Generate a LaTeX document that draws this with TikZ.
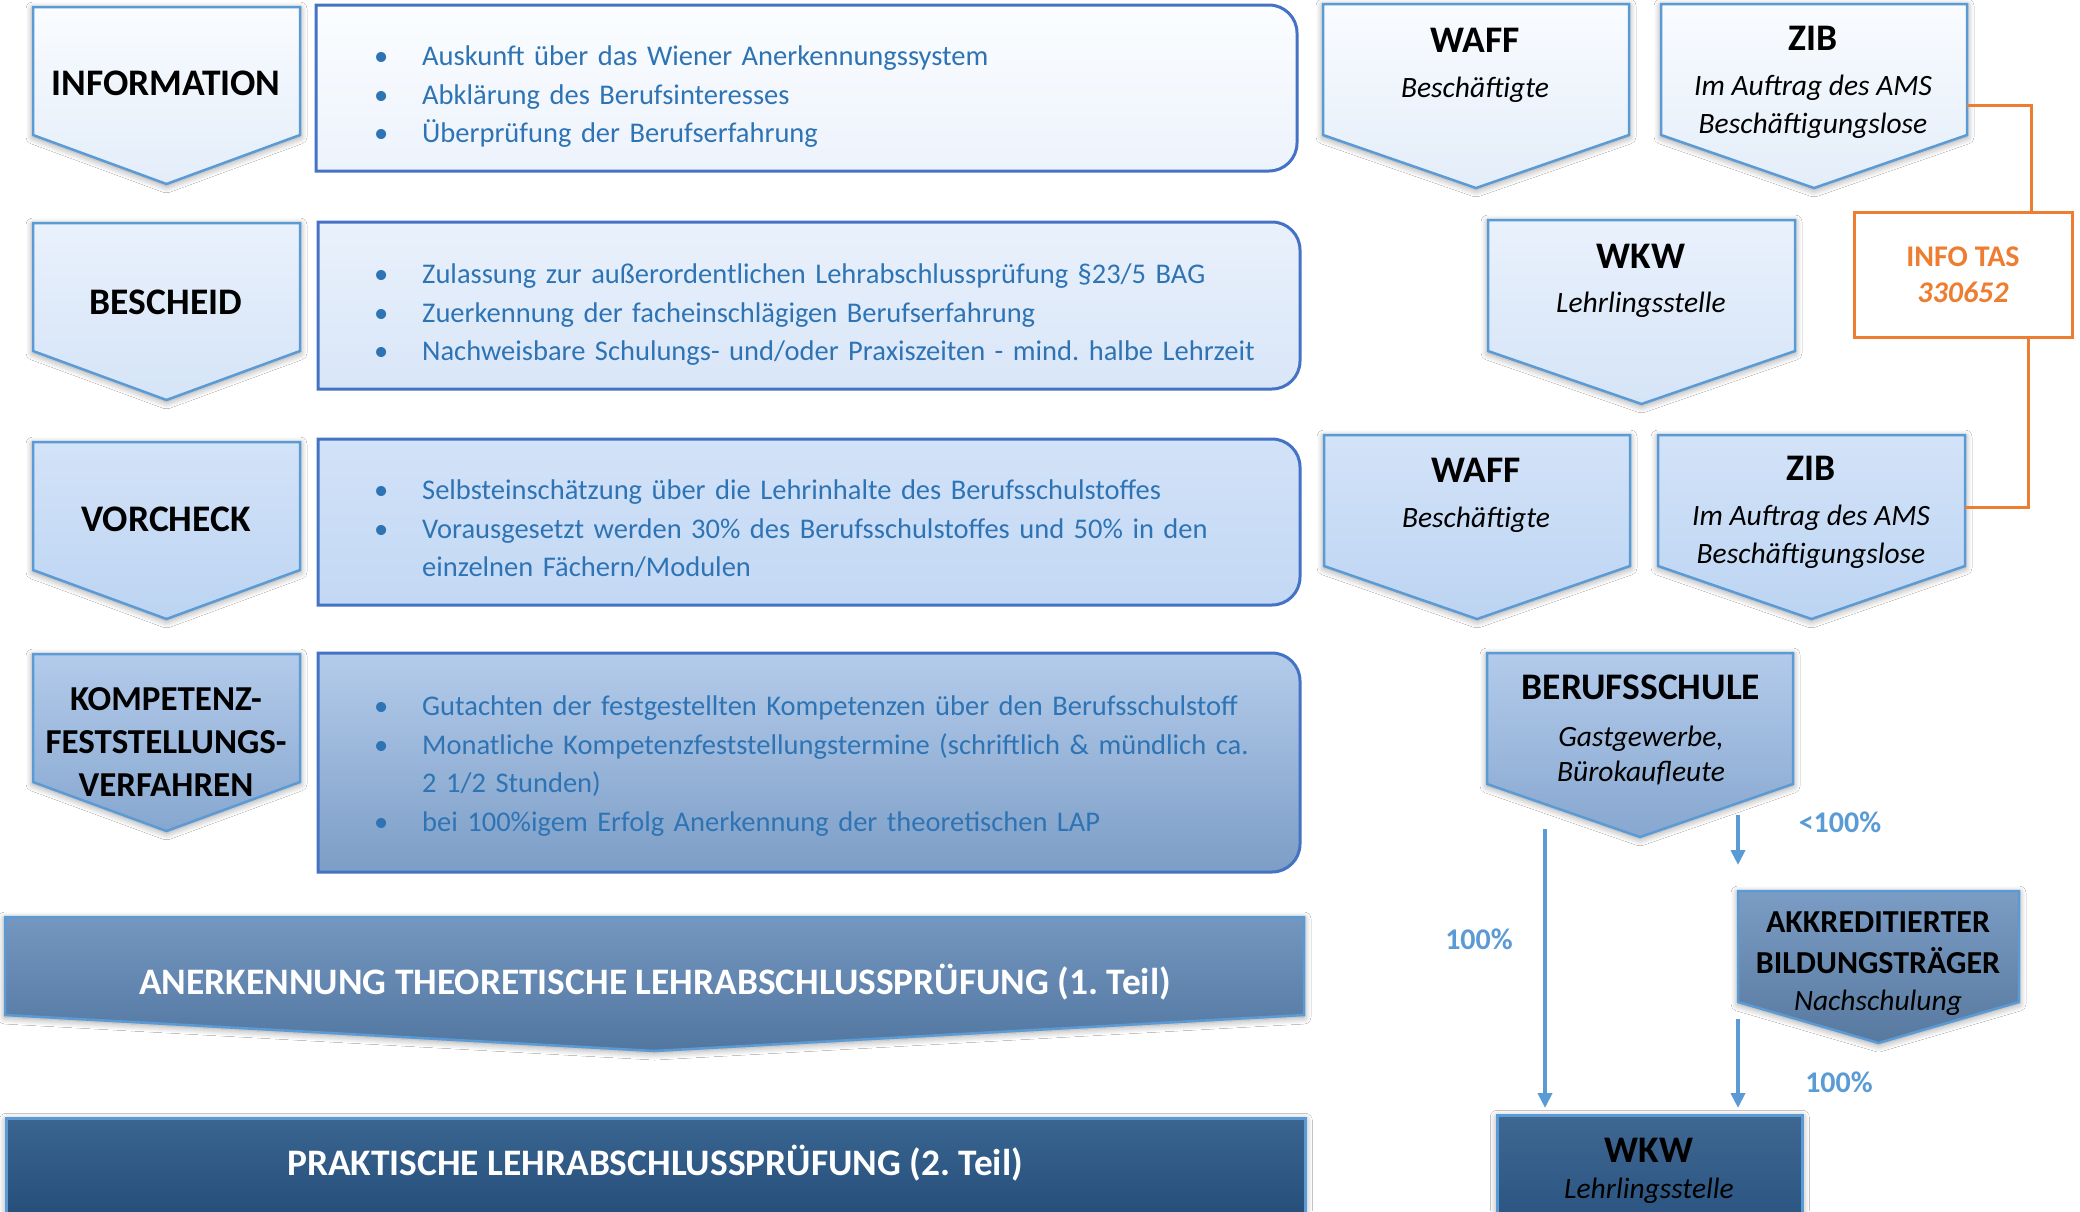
\documentclass[tikz,border=0pt]{standalone}
\usepackage{fontspec}
\setmainfont{Carlito}
\frenchspacing
\usetikzlibrary{arrows.meta,shadows.blur}

\definecolor{chevline}{HTML}{5B9BD5}
\definecolor{boxline}{HTML}{4472C4}
\definecolor{bultext}{HTML}{2E74B5}
\definecolor{tasc}{HTML}{ED7D31}
% column shades, top and bottom
\definecolor{s1t}{HTML}{FAFCFF}\definecolor{s1b}{HTML}{E3EDF9}
\definecolor{s2t}{HTML}{E9F1FC}\definecolor{s2b}{HTML}{D5E4F7}
\definecolor{s3t}{HTML}{D3E3F8}\definecolor{s3b}{HTML}{BCD4F2}
\definecolor{s4t}{HTML}{B3CBEB}\definecolor{s4b}{HTML}{87A7CF}
\definecolor{b1t}{HTML}{FBFDFF}\definecolor{b1b}{HTML}{EDF3FC}
\definecolor{b2t}{HTML}{E9F1FB}\definecolor{b2b}{HTML}{D9E6F8}
\definecolor{b3t}{HTML}{D2E2F8}\definecolor{b3b}{HTML}{C3D8F4}
\definecolor{b4t}{HTML}{B4CCEB}\definecolor{b4b}{HTML}{7C9DC6}
\definecolor{akkt}{HTML}{7B9DC5}\definecolor{akkb}{HTML}{57799F}
\definecolor{wkwt}{HTML}{3E6791}\definecolor{wkwb}{HTML}{2A5481}
\definecolor{bar1t}{HTML}{7497C0}\definecolor{bar1b}{HTML}{51769F}
\definecolor{bar2t}{HTML}{3A6591}\definecolor{bar2b}{HTML}{234C77}

\tikzset{
  softshadow/.style={blur shadow={shadow blur steps=8, shadow xshift=0pt, shadow yshift=-2pt, shadow blur radius=7pt, shadow opacity=40}},
  head/.style={font=\fontsize{37.5pt}{43pt}\selectfont\bfseries, align=center, inner sep=0pt},
  subline/.style={font=\fontsize{29.5pt}{38pt}\selectfont\itshape, align=center, inner sep=0pt},
  bul/.style={font=\fontsize{28.5pt}{38.5pt}\selectfont, text=bultext, text width=960pt, align=left, anchor=west, inner sep=0pt},
  pct/.style={font=\fontsize{30pt}{34pt}\selectfont\bfseries, text=chevline, inner sep=0pt},
  bartext/.style={font=\fontsize{37.4pt}{42pt}\selectfont\bfseries, text=white, inner sep=0pt},
  flow/.style={draw=chevline, line width=4pt, -{Triangle[width=14pt,length=15pt]}},
  tasline/.style={draw=tasc, line width=3pt},
  tasbox/.style={draw=tasc, line width=3pt, fill=white, minimum width=218pt, minimum height=125pt,
    font=\fontsize{30pt}{36pt}\selectfont\bfseries, text=tasc, align=center},
}

% chevron: name, left, top, width, shoulder, tip, top colour, bottom colour
\newcommand{\chev}[8]{%
  \path[draw=chevline, line width=2.5pt, top color=#7, bottom color=#8, softshadow]
    (#2,#3) -- ++(#4,0) -- ++(0,-#5) -- ++(-#4/2,#5-#6) -- ++(-#4/2,#6-#5) -- cycle;
  \coordinate (#1-nw) at (#2,#3);
  \coordinate (#1-ne) at (#2+#4,#3);}
% text box, right corners round: left, top, right, bottom
\newcommand{\rbox}[4]{(#1,#2) -- (#3-28,#2) arc (90:0:28) -- (#3,#4+28) arc (0:-90:28) -- (#1,#4) -- cycle}
\newcommand{\itm}[1]{\noindent\hangindent=60pt\hangafter=0\llap{\textbullet\hspace{34pt}}#1\par}

\begin{document}
\begin{tikzpicture}[x=1pt,y=1pt]
  \fill[white] (0,0) rectangle (2080,-1211);
  \useasboundingbox (0,0) rectangle (2080,-1211);

  % left column
  \chev{info}{33}{-7}{267}{128}{177}{s1t}{s1b}
  \chev{besch}{33}{-223}{267}{128}{177}{s2t}{s2b}
  \chev{vorc}{33}{-442}{267}{128}{177}{s3t}{s3b}
  \chev{komp}{33}{-654}{267}{128}{177}{s4t}{s4b}

  \node[head] (hinfo) at (166,-83) {INFORMATION};
  \node[head] (hbesch) at (166,-302) {BESCHEID};
  \node[head] (hvorc) at (166,-519) {VORCHECK};
  \node[head, font=\fontsize{35pt}{43pt}\selectfont\bfseries] (hkomp) at (166,-742) {KOMPETENZ-\\FESTSTELLUNGS-\\VERFAHREN};

  \draw[boxline, line width=3pt, top color=b1t, bottom color=b1b] \rbox{316}{-5}{1297}{-171};
  \draw[boxline, line width=3pt, top color=b2t, bottom color=b2b] \rbox{318}{-222}{1300}{-389};
  \draw[boxline, line width=3pt, top color=b3t, bottom color=b3b] \rbox{318}{-439}{1300}{-605};
  \draw[boxline, line width=3pt, top color=b4t, bottom color=b4b] \rbox{318}{-653}{1300}{-872};

  \node[bul] (tinfo) at (362,-97) {\itm{Auskunft über das Wiener Anerkennungssystem}
    \itm{Abklärung des Berufsinteresses}
    \itm{Überprüfung der Berufserfahrung}};
  \node[bul] (tbesch) at (362,-315) {\itm{Zulassung zur außerordentlichen Lehrabschlussprüfung §23/5 BAG}
    \itm{Zuerkennung der facheinschlägigen Berufserfahrung}
    \itm{Nachweisbare Schulungs- und/oder Praxiszeiten - mind. halbe Lehrzeit}};
  \node[bul] (tvorc) at (362,-529) {\itm{Selbsteinschätzung über die Lehrinhalte des Berufsschulstoffes}
    \itm{Vorausgesetzt werden 30\% des Berufsschulstoffes und 50\% in den\newline einzelnen Fächern/Modulen}};
  \node[bul] (tkomp) at (362,-766) {\itm{Gutachten der festgestellten Kompetenzen über den Berufsschulstoff}
    \itm{Monatliche Kompetenzfeststellungstermine (schriftlich \& mündlich ca.\newline 2 1/2 Stunden)}
    \itm{bei 100\%igem Erfolg Anerkennung der theoretischen LAP}};

  % bars
  \chev{anerk}{5}{-917}{1299}{98}{134}{bar1t}{bar1b}
  \node[bartext] (tanerk) at (655,-982) {ANERKENNUNG THEORETISCHE LEHRABSCHLUSSPRÜFUNG (1. Teil)};
  \node[draw=chevline, line width=2.5pt, top color=bar2t, bottom color=bar2b, softshadow,
    minimum width=1299pt, minimum height=110pt, anchor=north west] (prakt) at (5,-1117) {};
  \node[bartext] (tprakt) at (655,-1163) {PRAKTISCHE LEHRABSCHLUSSPRÜFUNG (2. Teil)};

  % right column
  \chev{waffA}{1323}{-4}{306}{131}{184}{s1t}{s1b}
  \chev{zibA}{1661}{-4}{306}{131}{184}{s1t}{s1b}
  \chev{wkwA}{1488}{-220}{307}{131}{184}{s2t}{s2b}
  \chev{waffB}{1324}{-435}{306}{131}{184}{s3t}{s3b}
  \chev{zibB}{1658}{-435}{307}{131}{184}{s3t}{s3b}
  \chev{bs}{1487}{-653}{306}{131}{184}{s4t}{s4b}
  \chev{akk}{1738}{-891}{281}{111}{152}{akkt}{akkb}
  \node[draw=chevline, line width=2.5pt, top color=wkwt, bottom color=wkwb, softshadow,
    minimum width=305pt, minimum height=110pt, anchor=north west] (wkwB) at (1496,-1114) {};

  \node[head] (hwaffA) at (1475,-40) {WAFF};
  \node[subline] (swaffA) at (1475,-90) {Beschäftigte};
  \node[head] (hzibA) at (1813,-38) {ZIB};
  \node[subline] (szibA) at (1813,-107) {Im Auftrag des AMS\\Beschäftigungslose};
  \node[head] (hwkwA) at (1641,-256) {WKW};
  \node[subline] (swkwA) at (1641,-305) {Lehrlingsstelle};
  \node[head] (hwaffB) at (1476,-470) {WAFF};
  \node[subline] (swaffB) at (1476,-520) {Beschäftigte};
  \node[head] (hzibB) at (1811,-468) {ZIB};
  \node[subline] (szibB) at (1811,-537) {Im Auftrag des AMS\\Beschäftigungslose};
  \node[head] (hbs) at (1641,-687) {BERUFSSCHULE};
  \node[subline, font=\fontsize{29.5pt}{35pt}\selectfont\itshape] (sbs) at (1641,-755) {Gastgewerbe,\\Bürokaufleute};
  \node[head, font=\fontsize{32pt}{41pt}\selectfont\bfseries] (hakk) at (1878,-943) {AKKREDITIERTER\\BILDUNGSTRÄGER};
  \node[subline] (sakk) at (1878,-1003) {Nachschulung};
  \node[head] (hwkwB) at (1649,-1150) {WKW};
  \node[subline] (swkwB) at (1649,-1191) {Lehrlingsstelle};

  \node[tasbox] (tas) at (1963,-275) {INFO TAS\\\textit{330652}};
  \draw[tasline] ([yshift=-101pt]zibA-ne) -| ([xshift=68pt]tas.north);
  \draw[tasline] ([xshift=65pt]tas.south) |- ([yshift=-72pt]zibB-ne);

  \coordinate (bsout) at (1545,-829);
  \coordinate (bsnach) at (1738,-815);
  \coordinate (akkout) at (1738,-1019);
  \draw[flow, shorten >=6pt] (bsout) -- (bsout |- wkwB.north);
  \draw[flow, shorten >=26pt] (bsnach) -- (bsnach |- akk-nw);
  \draw[flow, shorten >=6pt] (akkout) -- (akkout |- wkwB.north);

  \node[pct] (p100a) at (1479,-939) {100\%};
  \node[pct] (plow) at (1840,-822) {<100\%};
  \node[pct] (p100b) at (1839,-1082) {100\%};
\end{tikzpicture}
\end{document}
